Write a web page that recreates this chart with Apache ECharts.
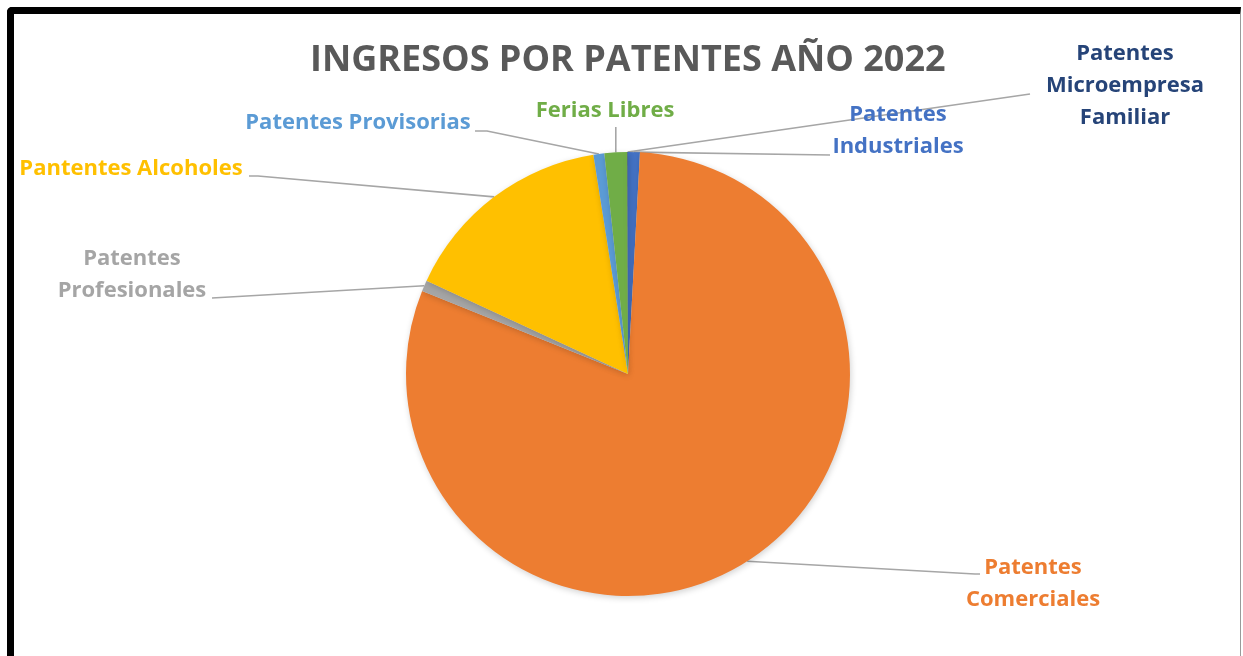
<!DOCTYPE html>
<html>
<head>
<meta charset="utf-8">
<script src="https://cdn.jsdelivr.net/npm/echarts@6/dist/echarts.min.js"></script>
<style>
  html, body { margin: 0; padding: 0; background: #fff; }
  #main { position: absolute; left: 0; top: 0; width: 1243px; height: 656px; }
  .frame {
    position: absolute; left: 7px; top: 7px; width: 1226px; height: 700px;
    border-left: 7px solid #000; border-top: 7px solid #000; border-right: 1px solid #9a9a9a;
    border-top-left-radius: 5px; pointer-events: none;
  }
</style>
</head>
<body>
<div id="main"></div>
<div class="frame"></div>
<script>
  // orden de Excel: primer sector en las 12 y sentido horario
  const categorias = ['Patentes Industriales', 'Patentes Comerciales', 'Patentes Profesionales', 'Pantentes Alcoholes', 'Patentes Provisorias', 'Ferias Libres', 'Patentes Microempresa Familiar']
  const etiquetas = ['Patentes\nIndustriales', 'Patentes\nComerciales', 'Patentes\nProfesionales', 'Pantentes Alcoholes', 'Patentes Provisorias', 'Ferias Libres', 'Patentes\nMicroempresa\nFamiliar']
  const ingresos = [0.86, 80.2, 0.8, 15.6, 0.79, 1.65, 0.05] // % aprox.
  const colores = ['#4472C4', '#ED7D31', '#A5A5A5', '#FFC000', '#5B9BD5', '#70AD47', '#264478']

  // donde va cada etiqueta y su linea guia (x, y, codo, fin)
  const posEtiqueta = [
    { x: 898, y: 131, linea: [[830, 155]] },
    { x: 1033, y: 584, linea: [[975, 574], [980, 574]] },
    { x: 132, y: 275, linea: [[212, 298]] },
    { x: 131, y: 169, linea: [[258, 176], [249, 176]] },
    { x: 358, y: 123, linea: [[487, 131], [475, 131]] },
    { x: 605, y: 111, linea: 'vertical' },
    { x: 1125, y: 86, linea: [[1030, 94]] }
  ]

  let myEcharts = echarts.init(document.querySelector('#main'))
  let option = {
    animation: false,
    title: {
      text: 'INGRESOS POR PATENTES AÑO 2022',
      left: 305,
      top: 38,
      textStyle: { fontFamily: 'Open Sans', fontSize: 36, fontWeight: 'bold', color: '#595959' }
    },
    series: [
      {
        type: 'pie',
        center: [628, 374],
        radius: 222,
        startAngle: 90,
        clockwise: true,
        avoidLabelOverlap: false,
        data: categorias.map((c, i) => ({
          name: c,
          value: ingresos[i],
          itemStyle: { color: colores[i] },
          label: { color: colores[i] }
        })),
        itemStyle: {
          shadowBlur: 6,
          shadowColor: 'rgba(0,0,0,0.18)',
          shadowOffsetX: 1,
          shadowOffsetY: 2
        },
        label: {
          show: true,
          position: 'outside',
          formatter: p => etiquetas[p.dataIndex],
          fontFamily: 'Open Sans',
          fontWeight: 'bold',
          fontSize: 22,
          lineHeight: 32,
          align: 'center'
        },
        labelLine: {
          show: true,
          lineStyle: { color: '#A6A6A6', width: 1.6 }
        },
        labelLayout: function (params) {
          let a = posEtiqueta[params.dataIndex]
          let p0 = params.labelLinePoints[0]
          let pts = a.linea === 'vertical'
            ? [p0, [p0[0], 127], [p0[0], 127]]
            : [p0].concat(a.linea.length === 1 ? [a.linea[0], a.linea[0]] : a.linea)
          return {
            x: a.x,
            y: a.y,
            align: 'center',
            verticalAlign: 'middle',
            labelLinePoints: pts
          }
        }
      }
    ]
  }
  myEcharts.setOption(option)
</script>
</body>
</html>
